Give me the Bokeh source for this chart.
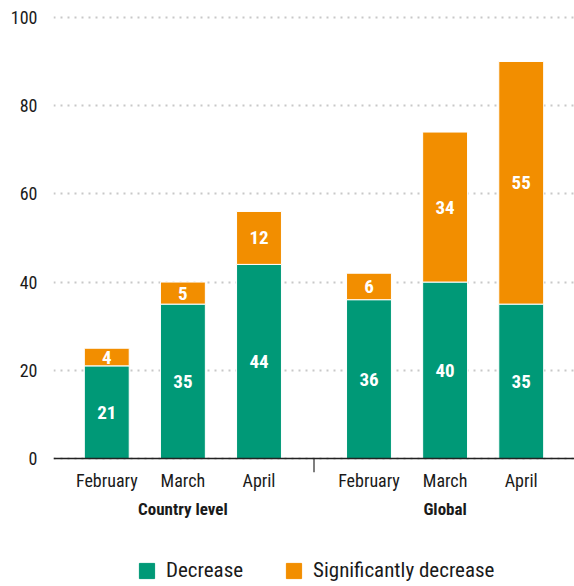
from bokeh.plotting import figure
from bokeh.layouts import column
from bokeh.models import FactorRange, Legend, LegendItem, Span, ColumnDataSource
from bokeh.core.properties import value
from bokeh.embed import file_html
from bokeh.resources import INLINE

groups = ["Country level", "Global"]
months = ["February", "March", "April"]
decrease = [21, 35, 44, 36, 40, 35]
significant = [4, 5, 12, 6, 34, 55]
series = ["Decrease", "Significantly decrease"]
y_ticks = [0, 20, 40, 60, 80, 100]

FONT = "'Roboto Condensed', 'DejaVu Sans Condensed', Roboto"
GREEN = "#009977"
ORANGE = "#F28E00"
TEXT = "#1a1a1a"
GROUP_PAD = 0.445
COLORS = [GREEN, ORANGE]
SPACER = " "  # blank middle level: adds room between month and group labels

x = [(g, SPACER, m) for g in groups for m in months]
src = ColumnDataSource(dict(
    x=x, decrease=decrease, significant=significant,
    dec_mid=[d / 2 for d in decrease],
    sig_mid=[d + s / 2 for d, s in zip(decrease, significant)],
    dec_txt=[str(v) for v in decrease],
    sig_txt=[str(v) for v in significant],
))

x_range = FactorRange(factors=x, group_padding=GROUP_PAD, subgroup_padding=0,
                      range_padding=0.2, range_padding_units="absolute")
p = figure(x_range=x_range, y_range=(-3.17, 101.1), width=574, height=540,
           output_backend="svg", toolbar_location=None,
           min_border_left=53, min_border_right=0, min_border_top=12, min_border_bottom=68)
p.outline_line_color = None
p.background_fill_color = "white"

# grid
p.xgrid.visible = False
p.ygrid.grid_line_color = "#c8c8c8"
p.ygrid.grid_line_dash = "2 5"
p.ygrid.grid_line_width = 2

rs = p.vbar_stack(["decrease", "significant"], x="x", width=0.59, source=src,
                  color=COLORS, line_color="white", line_width=1)

p.text(x="x", y="dec_mid", text="dec_txt", source=src, text_align="center",
       text_baseline="middle", text_color="white", text_font=value(FONT),
       text_font_size="19px", text_font_style="bold")
p.text(x="x", y="sig_mid", text="sig_txt", source=src, text_align="center",
       text_baseline="middle", text_color="white", text_font=value(FONT),
       text_font_size="19px", text_font_style="bold")

# baseline and group separator
p.add_layout(Span(location=0, dimension="width", line_color="#222222", line_width=1.5))
sep_x = [(groups[0], SPACER, months[-1], 0.5 + GROUP_PAD / 2)]
p.segment(x0=sep_x, x1=sep_x, y0=[0], y1=[-3.17], line_color="#555555", line_width=1.5)

# y axis
yax = p.yaxis[0]
yax.ticker = y_ticks
yax.axis_line_color = None
yax.major_tick_line_color = None
yax.minor_tick_line_color = None
yax.major_label_standoff = 10
yax.major_label_text_font = FONT
yax.major_label_text_font_size = "18px"
yax.major_label_text_color = TEXT

# x axis
xax = p.xaxis[0]
xax.axis_line_color = None
xax.major_tick_line_color = None
xax.minor_tick_line_color = None
xax.separator_line_color = None
xax.major_label_standoff = -9
xax.major_label_text_font = FONT
xax.major_label_text_font_size = "18px"
xax.major_label_text_color = TEXT
xax.subgroup_text_font = FONT
xax.subgroup_text_font_size = "17px"
xax.subgroup_text_color = "white"
xax.group_text_font = FONT
xax.group_text_font_size = "17px"
xax.group_text_font_style = "bold"
xax.group_text_color = TEXT

# legend strip below the chart
lg = figure(width=574, height=46, output_backend="svg", toolbar_location=None,
            x_axis_type=None, y_axis_type=None,
            min_border_left=0, min_border_right=0, min_border_top=0, min_border_bottom=0)
lg.outline_line_color = None
lg.xgrid.visible = False
lg.ygrid.visible = False
swatches = [lg.vbar(x=[0], top=[1], width=1, color=c, visible=False) for c in COLORS]
legend = Legend(items=[LegendItem(label=s, renderers=[r]) for s, r in zip(series, swatches)],
                orientation="horizontal", location=(84, 4),
                glyph_width=19, glyph_height=19, label_standoff=10, spacing=41,
                label_text_font=FONT, label_text_font_size="21px", label_text_color=TEXT,
                border_line_color=None, background_fill_alpha=0, padding=0, margin=0,
                inactive_fill_alpha=0)
lg.add_layout(legend)

open("out.html", "w").write(file_html(column(p, lg, spacing=0), INLINE))
